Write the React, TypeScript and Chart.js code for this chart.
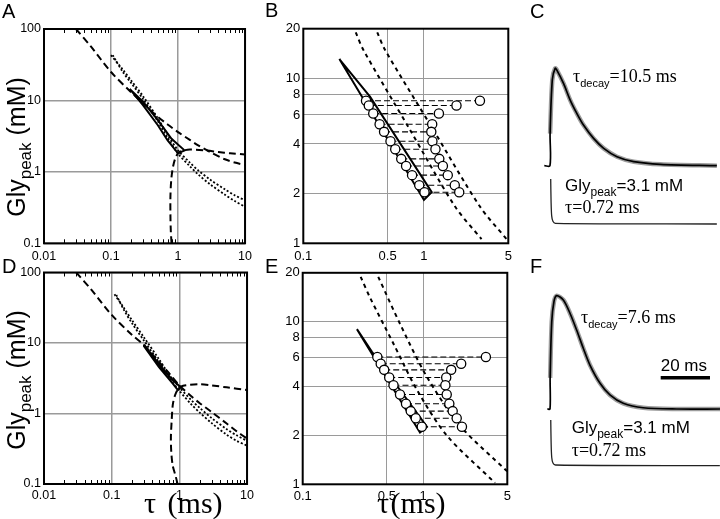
import React, { useEffect, useRef } from "react";
import { Chart, registerables } from "chart.js";

Chart.register(...registerables);

const SANS = '"Liberation Sans", Arial, Helvetica, sans-serif';
const SERIF = '"Liberation Serif", "Times New Roman", Times, serif';
const GRID = "#9a9a9a";

// ---------- axes (A, D) ----------
const tauDecadesAD = [0.01, 0.1, 1, 10];
const glyDecadesAD = [0.1, 1, 10, 100];
// ---------- axes (B, E) ----------
const tauTicksBE = [0.1, 0.5, 1, 5];
const tauGridBE = [0.5, 1];
const glyTicksBE = [1, 2, 4, 6, 8, 10, 20];
const glyGridBE = [2, 4, 6, 8, 10];

// ---------- Panel A ----------
const aDashMainTau = [0.03, 0.05, 0.1, 0.2, 0.3, 0.5, 0.7, 1, 1.5, 2, 3, 5, 7, 10];
const aDashMainGly = [100, 57, 25, 13, 9.1, 5.9, 4.6, 3.6, 2.8, 2.35, 1.9, 1.5, 1.35, 1.25];
const aDashHookTau = [0.8, 0.78, 0.77, 0.77, 0.79, 0.83, 0.9, 1.0, 1.15, 1.5, 2.5, 4, 6, 10];
const aDashHookGly = [0.1, 0.15, 0.25, 0.45, 0.75, 1.1, 1.5, 1.82, 1.97, 2.05, 2.0, 1.9, 1.82, 1.75];
const aDotUpTau = [0.1, 0.15, 0.2, 0.3, 0.5, 0.7, 1, 1.5, 2, 3, 5, 7, 10];
const aDotUpGly = [43, 27, 19, 11.5, 5.6, 3.3, 2.0, 1.35, 1.05, 0.78, 0.57, 0.47, 0.4];
const aDotLoTau = [0.106, 0.15, 0.2, 0.3, 0.5, 0.7, 1, 1.5, 2, 3, 5, 7, 10];
const aDotLoGly = [43, 25, 17.5, 10.5, 5.1, 3.0, 1.8, 1.2, 0.92, 0.67, 0.48, 0.39, 0.325];
const aSolidTau = [0.19, 0.3, 0.5, 0.8, 1.25, 1.0, 0.7, 0.5, 0.3, 0.19];
const aSolidGly = [14.5, 9.6, 5.3, 2.9, 2.0, 1.82, 2.75, 4.5, 8.6, 14.5];

// ---------- Panel D ----------
const dDashMainTau = [0.03, 0.05, 0.1, 0.2, 0.3, 0.5, 0.7, 1, 1.5, 2, 3, 5, 7, 10];
const dDashMainGly = [100, 57, 25, 13, 9.3, 5.4, 3.75, 2.5, 1.75, 1.4, 1.05, 0.72, 0.56, 0.44];
const dDashHookTau = [0.94, 0.88, 0.8, 0.76, 0.75, 0.77, 0.8, 0.86, 0.94, 1.05, 1.25, 2, 3, 5, 10];
const dDashHookGly = [0.1, 0.13, 0.18, 0.28, 0.46, 0.8, 1.34, 1.8, 2.17, 2.4, 2.52, 2.6, 2.5, 2.35, 2.15];
const dDotUpTau = [0.11, 0.15, 0.2, 0.3, 0.5, 0.7, 1, 1.5, 2, 3, 5, 7, 10];
const dDotUpGly = [49, 32, 21, 12, 5.9, 3.6, 2.35, 1.55, 1.2, 0.86, 0.6, 0.49, 0.41];
const dDotLoTau = [0.117, 0.15, 0.2, 0.3, 0.5, 0.7, 1, 1.5, 2, 3, 5, 7, 10];
const dDotLoGly = [48, 30, 19, 10.8, 5.3, 3.25, 2.1, 1.35, 1.03, 0.73, 0.5, 0.41, 0.35];
const dSolidTau = [0.3, 0.5, 0.8, 1.05, 0.95, 0.8, 0.5, 0.3, 0.3];
const dSolidGly = [9.5, 5.0, 2.95, 2.35, 2.15, 2.65, 4.55, 9.0, 9.5];

// ---------- Panel B ----------
const bPolyTau = [0.199, 0.357, 1.16, 1.0, 0.199];
const bPolyGly = [13.1, 7.75, 2.04, 1.83, 13.1];
const bGly = [7.31, 6.85, 6.12, 5.27, 4.74, 4.16, 3.72, 3.25, 2.94, 2.59, 2.25, 2.04];
const bLeftTau = [0.331, 0.349, 0.38, 0.429, 0.467, 0.528, 0.578, 0.648, 0.711, 0.797, 0.914, 1.01];
const bRightTau = [2.91, 1.86, 1.33, 1.17, 1.15, 1.175, 1.245, 1.34, 1.435, 1.575, 1.8, 1.96];
const bDiag1Tau = [0.272, 0.314, 0.753, 1.81, 3.0];
const bDiag1Gly = [19, 14.9, 4.98, 1.67, 1.06];
const bDiag2Tau = [0.41, 0.475, 1.175, 2.91, 4.84];
const bDiag2Gly = [19, 14.9, 4.98, 1.67, 1.06];

// ---------- Panel E ----------
const ePolyTau = [0.282, 0.376, 1.077, 0.942, 0.282];
const ePolyGly = [9.0, 6.54, 2.26, 2.08, 9.0];
const eGly = [6.07, 5.52, 5.06, 4.54, 4.07, 3.57, 3.13, 2.82, 2.55, 2.26];
const eLeftTau = [0.4165, 0.4445, 0.475, 0.523, 0.5675, 0.643, 0.721, 0.789, 0.869, 0.975];
const eRightTau = [3.32, 2.07, 1.71, 1.555, 1.53, 1.57, 1.65, 1.76, 1.9, 2.1];
const eDiag1Tau = [0.303, 0.362, 0.566, 0.885, 1.57, 3.95];
const eDiag1Gly = [18.9, 14.1, 7.35, 3.83, 2.0, 1.02];
const eDiag2Tau = [0.424, 0.643, 1.07, 2.03, 5.0];
const eDiag2Gly = [18.9, 9.7, 4.61, 2.29, 1.2];

// ---------- Panel C traces (time ms, normalized amplitude) ----------
const cCurrentT = [0, 2.3, 2.35, 3.25, 4.4, 5.1, 7.8, 10.5, 13.2, 15.9, 20, 24.1, 29.5, 36.3, 47.1, 70];
const cCurrentA = [0, 0, 0.33, 0.883, 1.0, 0.982, 0.845, 0.674, 0.537, 0.417, 0.28, 0.178, 0.092, 0.041, 0.014, 0];
const cGlyT = [2.6, 2.75, 3.0, 3.5, 4.5, 70];
const cGlyA = [1, 0.5, 0.18, 0.06, 0.015, 0];

// ---------- Panel F traces ----------
const fCurrentT = [0, 1.1, 1.15, 1.8, 2.7, 3.8, 6.5, 9.2, 11.9, 14.6, 17.3, 21.4, 25.4, 30.8, 38.9, 52.5, 70.1];
const fCurrentA = [0, 0, 0.274, 0.77, 0.947, 1.0, 0.962, 0.845, 0.697, 0.536, 0.388, 0.227, 0.124, 0.05, 0.011, 0, 0];
const fGlyT = [1.4, 1.55, 1.8, 2.3, 3.3, 70];
const fGlyA = [1, 0.5, 0.18, 0.06, 0.015, 0];
const scaleBarMs = 20;
const scaleBarStartMs = 46;
const scaleBarLevel = 0.276;

// ---------- helpers ----------
const pts = (xs: number[], ys: number[]) => xs.map((x, i) => ({ x, y: ys[i] }));
const minorOf = (decades: number[]) => {
  const out: number[] = [];
  for (let i = 0; i < decades.length - 1; i++)
    for (let m = 2; m <= 9; m++) out.push(+(decades[i] * m).toPrecision(6));
  return out;
};

const framePlugin = {
  id: "frame",
  afterDatasetsDraw(chart: any, _a: any, opts: any) {
    const { ctx, chartArea: a } = chart;
    ctx.save();
    ctx.strokeStyle = "#000";
    if (opts.minor && opts.minor.length) {
      const xs = chart.scales.x;
      ctx.lineWidth = 1;
      ctx.beginPath();
      for (const v of opts.minor) {
        const px = Math.round(xs.getPixelForValue(v)) + 0.5;
        ctx.moveTo(px, a.top);
        ctx.lineTo(px, a.top + 4);
        ctx.moveTo(px, a.bottom);
        ctx.lineTo(px, a.bottom - 4);
      }
      ctx.stroke();
    }
    ctx.lineWidth = opts.lineWidth || 2;
    ctx.strokeRect(a.left, a.top, a.right - a.left, a.bottom - a.top);
    ctx.restore();
  },
};

const line = (data: any[], width: number, dash: number[], tension = 0.3) => ({
  data,
  showLine: true,
  borderColor: "#000",
  borderWidth: width,
  borderDash: dash,
  pointRadius: 0,
  tension,
  fill: false,
});

const circles = (data: any[]) => ({
  data,
  showLine: false,
  pointRadius: 4.6,
  pointBorderWidth: 1.3,
  pointBorderColor: "#000",
  pointBackgroundColor: "#fff",
});

function logConfig(p: any) {
  const axis = (min: number, max: number, ticks: number[], labels: number[], grid: number[], pad: number, fit: (s: any) => void) => ({
    type: "logarithmic",
    min,
    max,
    afterBuildTicks: (s: any) => {
      s.ticks = ticks.map((v) => ({ value: v }));
    },
    afterFit: fit,
    border: { display: false },
    grid: {
      drawTicks: false,
      lineWidth: p.gridW,
      color: (c: any) => (c.tick && grid.includes(c.tick.value) ? GRID : "rgba(0,0,0,0)"),
    },
    ticks: {
      autoSkip: false,
      maxRotation: 0,
      padding: pad,
      color: "#000",
      font: { family: SANS, size: p.font },
      callback: (v: number) => (labels.includes(v) ? String(v) : ""),
    },
  });
  return {
    type: "scatter",
    data: { datasets: p.datasets },
    plugins: [framePlugin],
    options: {
      animation: false,
      responsive: false,
      events: [],
      layout: { padding: { top: p.padTop, right: p.padRight, left: 0, bottom: 0 } },
      plugins: {
        legend: { display: false },
        tooltip: { enabled: false },
        frame: { minor: p.minor, lineWidth: 2 },
      },
      scales: {
        x: axis(p.xMin, p.xMax, p.xTicks, p.xLabels, p.xGrid, p.xPad, (s: any) => {
          s.height = p.xAxisH;
        }),
        y: axis(p.yMin, p.yMax, p.yTicks, p.yLabels, p.yGrid, 3, (s: any) => {
          s.width = p.yAxisW;
        }),
      },
    },
  };
}

function traceConfig(p: any) {
  return {
    type: "scatter",
    data: { datasets: p.datasets },
    options: {
      animation: false,
      responsive: false,
      events: [],
      layout: { padding: 0 },
      plugins: { legend: { display: false }, tooltip: { enabled: false } },
      scales: {
        x: { type: "linear", display: false, min: p.xMin, max: p.xMax },
        y: { type: "linear", display: false, min: p.yMin, max: p.yMax },
      },
    },
  };
}

function ChartCanvas({ left, top, width, height, make }: any) {
  const ref = useRef<HTMLCanvasElement | null>(null);
  useEffect(() => {
    const c = new Chart(ref.current as HTMLCanvasElement, make());
    return () => c.destroy();
  }, []);
  return (
    <canvas
      ref={ref}
      width={width}
      height={height}
      style={{ position: "absolute", left, top, width, height }}
    />
  );
}

function T({ x, y, size, family, children, style }: any) {
  const k = family === SERIF ? 0.8375 : 0.8465;
  return (
    <div
      style={{
        position: "absolute",
        left: x,
        top: y - k * size,
        fontSize: size,
        fontFamily: family,
        lineHeight: 1,
        whiteSpace: "nowrap",
        color: "#000",
        ...style,
      }}
    >
      {children}
    </div>
  );
}

const Sub = ({ children, size, family, dy }: any) => (
  <span style={{ position: "relative", top: dy, fontSize: size, fontFamily: family }}>{children}</span>
);

function YTitle({ cx, cy }: any) {
  return (
    <div
      style={{
        position: "absolute",
        left: cx,
        top: cy,
        transform: "translate(-50%, -50%) rotate(-90deg)",
        fontFamily: SANS,
        fontSize: 25,
        lineHeight: 1,
        whiteSpace: "nowrap",
      }}
    >
      Gly<Sub size={17} family={SANS} dy={6}>peak</Sub> (mM)
    </div>
  );
}

const makeA = () =>
  logConfig({
    xMin: 0.01, xMax: 10, yMin: 0.1, yMax: 100,
    xTicks: tauDecadesAD, xLabels: tauDecadesAD, xGrid: tauDecadesAD,
    yTicks: glyDecadesAD, yLabels: glyDecadesAD, yGrid: glyDecadesAD,
    minor: minorOf(tauDecadesAD),
    yAxisW: 44, xAxisH: 18.7, padTop: 29, padRight: 10, font: 12.5, xPad: 6, gridW: 1.5,
    datasets: [
      line(pts(aSolidTau, aSolidGly), 2, [], 0),
      line(pts(aDashMainTau, aDashMainGly), 2, [7, 4]),
      line(pts(aDashHookTau, aDashHookGly), 2, [7, 4]),
      line(pts(aDotUpTau, aDotUpGly), 1.8, [2, 2]),
      line(pts(aDotLoTau, aDotLoGly), 1.8, [2, 2]),
    ],
  });

const makeD = () =>
  logConfig({
    xMin: 0.01, xMax: 10, yMin: 0.1, yMax: 100,
    xTicks: tauDecadesAD, xLabels: tauDecadesAD, xGrid: tauDecadesAD,
    yTicks: glyDecadesAD, yLabels: glyDecadesAD, yGrid: glyDecadesAD,
    minor: minorOf(tauDecadesAD),
    yAxisW: 44, xAxisH: 35, padTop: 7.3, padRight: 9, font: 12.5, xPad: 4, gridW: 1.5,
    datasets: [
      line(pts(dSolidTau, dSolidGly), 2, [], 0),
      line(pts(dDashMainTau, dDashMainGly), 2, [7, 4]),
      line(pts(dDashHookTau, dDashHookGly), 2, [7, 4]),
      line(pts(dDotUpTau, dDotUpGly), 1.8, [2, 2]),
      line(pts(dDotLoTau, dDotLoGly), 1.8, [2, 2]),
    ],
  });

const hDashes = (left: number[], right: number[], ys: number[]) =>
  ys.map((y, i) => line([{ x: left[i], y }, { x: right[i], y }], 1.1, [6, 3], 0));

const makeB = () =>
  logConfig({
    xMin: 0.1, xMax: 5, yMin: 1, yMax: 20,
    xTicks: tauTicksBE, xLabels: tauTicksBE, xGrid: tauGridBE,
    yTicks: glyTicksBE, yLabels: glyTicksBE, yGrid: glyGridBE,
    minor: [],
    yAxisW: 41.3, xAxisH: 18.7, padTop: 28.7, padRight: 8.7, font: 13, xPad: 5, gridW: 1,
    datasets: [
      circles(pts(bLeftTau, bGly)),
      circles(pts(bRightTau, bGly)),
      ...hDashes(bLeftTau, bRightTau, bGly),
      line(pts(bPolyTau, bPolyGly), 2, [], 0),
      line(pts(bDiag1Tau, bDiag1Gly), 2, [4, 4]),
      line(pts(bDiag2Tau, bDiag2Gly), 2, [4, 4]),
    ],
  });

const makeE = () =>
  logConfig({
    xMin: 0.1, xMax: 5, yMin: 1, yMax: 20,
    xTicks: tauTicksBE, xLabels: tauTicksBE, xGrid: tauGridBE,
    yTicks: glyTicksBE, yLabels: glyTicksBE, yGrid: glyGridBE,
    minor: [],
    yAxisW: 40.7, xAxisH: 34.7, padTop: 8, padRight: 9.7, font: 13, xPad: 4, gridW: 1,
    datasets: [
      circles(pts(eLeftTau, eGly)),
      circles(pts(eRightTau, eGly)),
      ...hDashes(eLeftTau, eRightTau, eGly),
      line(pts(ePolyTau, ePolyGly), 2, [], 0),
      line(pts(eDiag1Tau, eDiag1Gly), 2, [4, 4]),
      line(pts(eDiag2Tau, eDiag2Gly), 2, [4, 4]),
    ],
  });

const currentSets = (curT: number[], curA: number[], fitFrom: number, extra: any[] = []) => [
  { ...line(pts(curT, curA), 1.7, [], 0.3) },
  { ...line(pts(curT.slice(fitFrom), curA.slice(fitFrom)), 4.5, [], 0.3), borderColor: "#9c9c9c" },
  ...extra,
];
const glySets = (glyT: number[], glyA: number[]) => [
  { ...line(pts(glyT, glyA), 1.3, [], 0.3), borderColor: "#222" },
];

// C: big current trace (canvas 535,50 185x125), glycine transient (canvas 535,170 185x60)
const makeCBig = () =>
  traceConfig({
    xMin: -3.77, xMax: 71.28, yMin: -0.0955, yMax: 1.188,
    datasets: currentSets(cCurrentT, cCurrentA, 2),
  });
const makeCSmall = () =>
  traceConfig({
    xMin: -3.77, xMax: 71.28, yMin: -0.133, yMax: 1.2,
    datasets: glySets(cGlyT, cGlyA),
  });

// F: big current trace (canvas 535,285 185x130), glycine transient (canvas 535,412 185x60)
const makeFBig = () =>
  traceConfig({
    xMin: -4.99, xMax: 70.06, yMin: -0.053, yMax: 1.094,
    datasets: currentSets(fCurrentT, fCurrentA, 2, [
      line(
        [
          { x: scaleBarStartMs, y: scaleBarLevel },
          { x: scaleBarStartMs + scaleBarMs, y: scaleBarLevel },
        ],
        3.5,
        [],
        0
      ),
    ]),
  });
const makeFSmall = () =>
  traceConfig({
    xMin: -4.99, xMax: 70.06, yMin: -0.138, yMax: 1.175,
    datasets: glySets(fGlyT, fGlyA),
  });

export default function App() {
  return (
    <div
      style={{
        position: "fixed",
        left: 0,
        top: 0,
        width: 720,
        height: 519,
        background: "#fff",
        overflow: "hidden",
      }}
    >
      <ChartCanvas left={0} top={0} width={258} height={262} make={makeA} />
      <ChartCanvas left={0} top={262} width={258} height={257} make={makeD} />
      <ChartCanvas left={262} top={0} width={255} height={262} make={makeB} />
      <ChartCanvas left={262} top={262} width={255} height={257} make={makeE} />
      <ChartCanvas left={535} top={50} width={185} height={125} make={makeCBig} />
      <ChartCanvas left={535} top={170} width={185} height={60} make={makeCSmall} />
      <ChartCanvas left={535} top={285} width={185} height={130} make={makeFBig} />
      <ChartCanvas left={535} top={412} width={185} height={60} make={makeFSmall} />

      {/* panel letters */}
      <T x={2} y={18.3} size={20} family={SANS}>A</T>
      <T x={265} y={17.3} size={20} family={SANS}>B</T>
      <T x={530} y={18.3} size={20} family={SANS}>C</T>
      <T x={2} y={273} size={20} family={SANS}>D</T>
      <T x={265} y={273.3} size={20} family={SANS}>E</T>
      <T x={530} y={273.3} size={20} family={SANS}>F</T>

      {/* axis titles */}
      <YTitle cx={16} cy={147} />
      <YTitle cx={16} cy={380} />
      <T x={144} y={513} size={30} family={SERIF} style={{ wordSpacing: 4 }}>τ (ms)</T>
      <T x={377} y={513} size={30} family={SERIF} style={{ wordSpacing: -6 }}>τ (ms)</T>

      {/* panel C annotations */}
      <T x={573} y={81.7} size={18} family={SERIF}>
        τ<Sub size={11} family={SANS} dy={5}>decay</Sub>=10.5 ms
      </T>
      <T x={565} y={191.7} size={17} family={SANS}>
        Gly<Sub size={12} family={SANS} dy={5}>peak</Sub>=3.1 mM
      </T>
      <T x={565} y={213.3} size={18} family={SERIF}>τ=0.72 ms</T>

      {/* panel F annotations */}
      <T x={581} y={323.3} size={18} family={SERIF}>
        τ<Sub size={11} family={SANS} dy={5}>decay</Sub>=7.6 ms
      </T>
      <T x={660.7} y={371} size={17} family={SANS}>20 ms</T>
      <T x={571.7} y={433} size={17} family={SANS}>
        Gly<Sub size={12} family={SANS} dy={5}>peak</Sub>=3.1 mM
      </T>
      <T x={571.7} y={456} size={18} family={SERIF}>τ=0.72 ms</T>
    </div>
  );
}
